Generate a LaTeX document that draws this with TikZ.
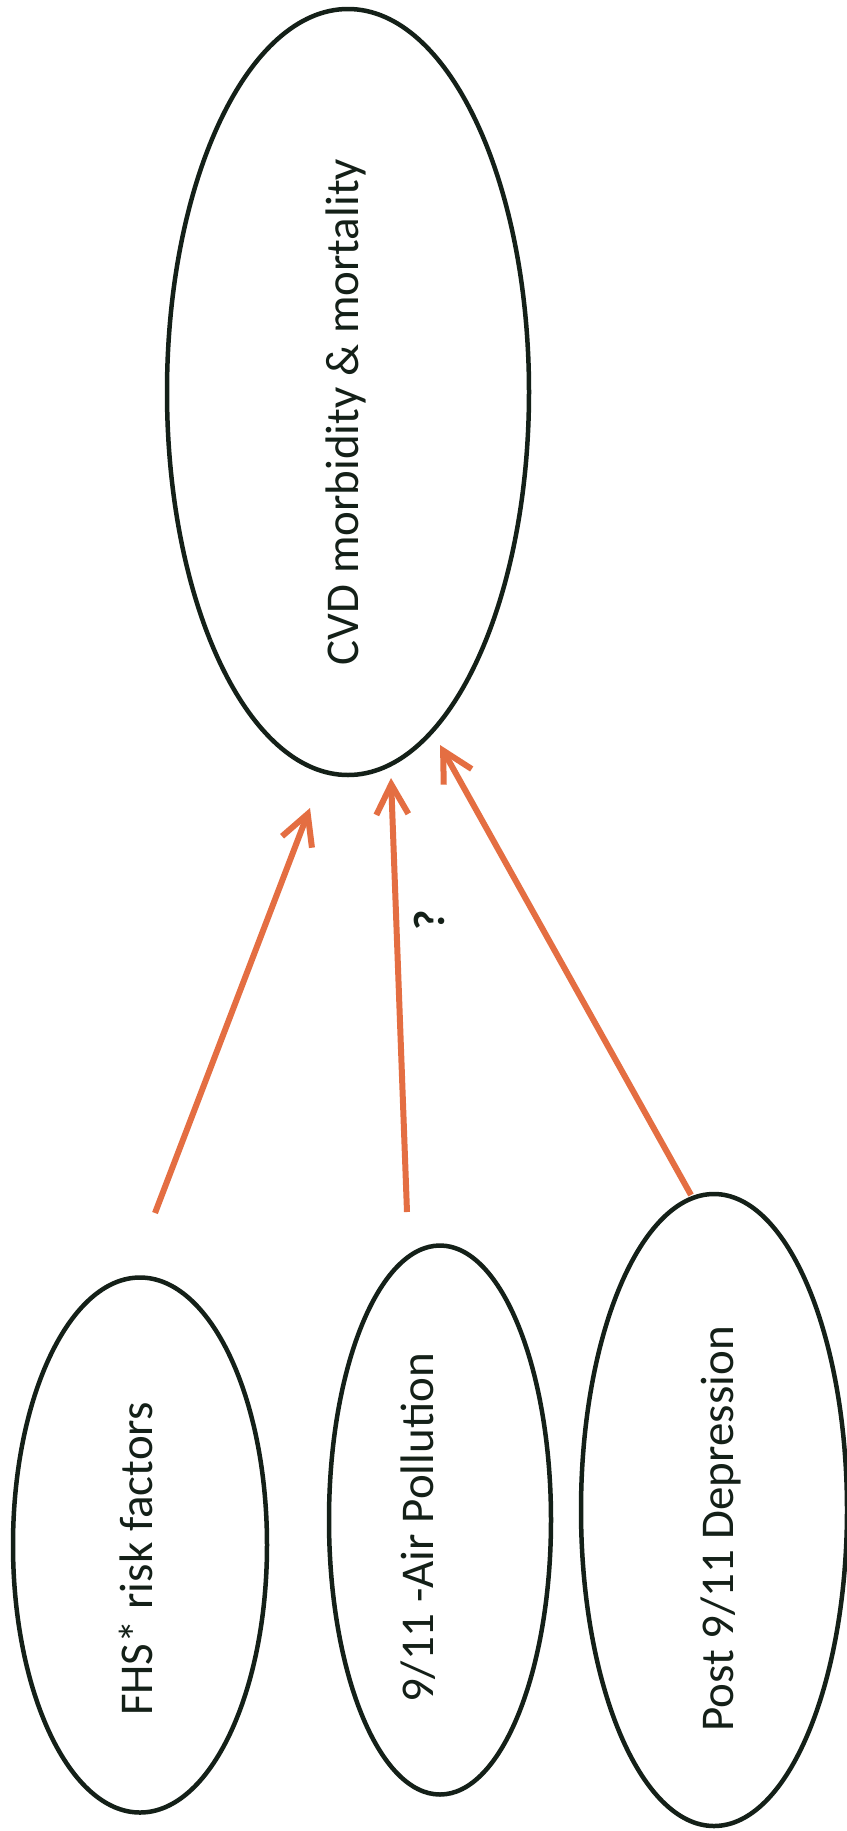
\documentclass[tikz,border=0pt]{standalone}
\usepackage{fontspec}
\setmainfont{Carlito}
\usetikzlibrary{shapes.geometric,arrows.meta}
\definecolor{arrowc}{RGB}{228,110,66}
\definecolor{inkc}{RGB}{20,32,24}
\begin{document}
\begin{tikzpicture}[x=1pt,y=-1pt,
  oval/.style={draw=inkc, ellipse, line width=4.5pt, inner sep=0pt},
  lab/.style={text=inkc, font=\fontsize{47}{56}\selectfont, rotate=90, anchor=base, inner sep=0pt},
  link/.style={draw=arrowc, line width=6pt,
    -{Straight Barb[length=30pt,width=32pt]}}]
\fill[white] (0,0) rectangle (846,1831);
\useasboundingbox (0,0) rectangle (846,1831);
\node[oval, minimum width=362pt, minimum height=766pt] (cvd) at (348,392) {};
\node[oval, minimum width=254pt, minimum height=535pt] (fhs) at (140,1545) {};
\node[oval, minimum width=222pt, minimum height=549pt] (air) at (440,1520) {};
\node[oval, minimum width=266pt, minimum height=632pt] (dep) at (714,1510) {};
\node[lab] (cvdt) at (358,412) {CVD morbidity \& mortality};
\node[lab] (fhst) at (152,1559) {FHS* risk factors};
\node[lab] (airt) at (433,1528) {9/11 -Air Pollution};
\node[lab] (dept) at (733,1529) {Post 9/11 Depression};
\coordinate (t1) at (155,1213);
\coordinate (h1) at (310,808);
\coordinate (t2) at (407,1212);
\coordinate (h2) at (391,778);
\coordinate (t3) at (691,1195);
\coordinate (h3) at (440,745);
\draw[link] (t1) -- (h1);
\draw[link] (t2) -- (h2);
\draw[link] (t3) -- (h3);
\node[text=inkc, font=\fontsize{44}{52}\selectfont\bfseries, rotate=90] (q) at (429,920) {?};
\end{tikzpicture}
\end{document}
